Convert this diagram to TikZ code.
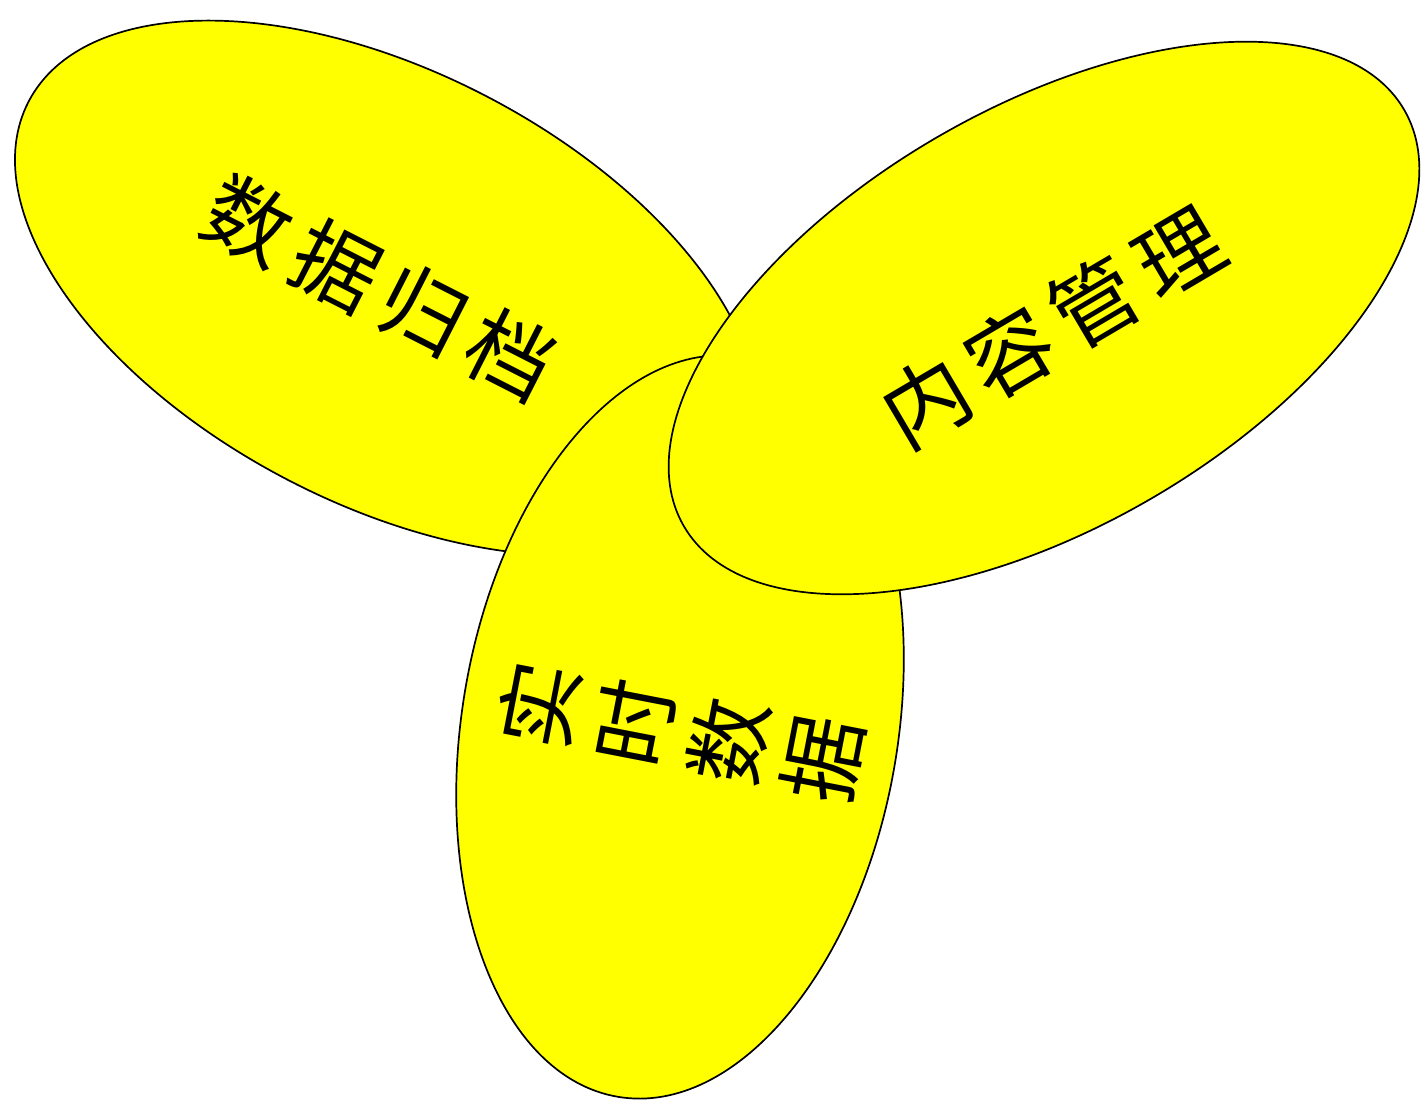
\documentclass[tikz,border=0pt]{standalone}
\usepackage{fontspec}
\newfontfamily\cjk{Noto Sans CJK SC}
\usetikzlibrary{shapes.geometric}
\definecolor{leafyellow}{RGB}{255,255,0}
\begin{document}
\begin{tikzpicture}[x=1pt,y=1pt,
  leaf/.style={ellipse, draw=black, line width=1.7pt, fill=leafyellow, inner sep=0pt, outer sep=0pt},
  lbl/.style={font=\cjk\fontsize{86}{96}\selectfont, inner sep=0pt, text=black, align=center}]
\fill[white] (0,0) rectangle (1426,1103);
\useasboundingbox (0,0) rectangle (1426,1103);
% left leaf (back)
\node[leaf, minimum width=808pt, minimum height=432pt, rotate=-27.5] (L) at (387,815) {};
\node[lbl, rotate=-27] (Lt) at (380,815) {数\hspace{12pt}据\hspace{12pt}归\hspace{12pt}档};
% bottom leaf (middle)
\node[leaf, minimum width=436pt, minimum height=750pt, rotate=-9.5] (B) at (680,376) {};
\node[lbl, rotate=79] (Bt) at (681,371) {实\\时\\数\\据};
% right leaf (front)
\node[leaf, minimum width=832pt, minimum height=420pt, rotate=30] (R) at (1044,785) {};
\node[lbl, rotate=30.5] (Rt) at (1052,776) {内\hspace{12pt}容\hspace{12pt}管\hspace{12pt}理};
\end{tikzpicture}
\end{document}
